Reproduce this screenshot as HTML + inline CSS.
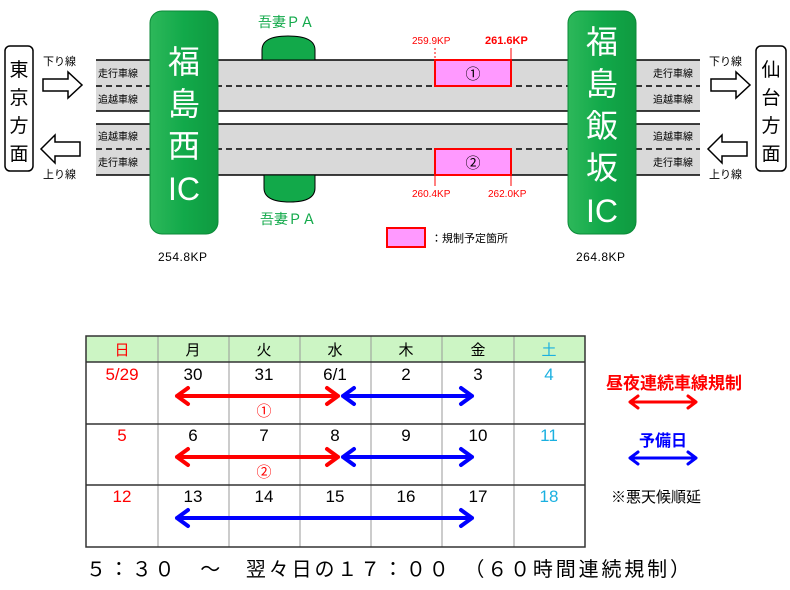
<!DOCTYPE html>
<html><head><meta charset="utf-8"><style>
body{margin:0;background:#fff}
text{font-family:"Liberation Sans","Noto Sans CJK JP",sans-serif}
</style></head><body>
<svg width="790" height="585" viewBox="0 0 790 585" xmlns="http://www.w3.org/2000/svg">
<defs>
<linearGradient id="g" x1="0" x2="1"><stop offset="0" stop-color="#2db85a"/><stop offset=".5" stop-color="#12a94a"/><stop offset="1" stop-color="#0f9a40"/></linearGradient>
</defs>
<rect x="96" y="60" width="604" height="51" fill="#d9d9d9"/>
<rect x="96" y="124" width="604" height="51" fill="#d9d9d9"/>
<g stroke="#000" stroke-width="1.5">
<line x1="96" y1="60" x2="700" y2="60"/><line x1="96" y1="111" x2="700" y2="111"/>
<line x1="96" y1="124" x2="700" y2="124"/><line x1="96" y1="175" x2="700" y2="175"/>
<line x1="96" y1="86" x2="700" y2="86" stroke-dasharray="6,4"/>
<line x1="96" y1="149" x2="700" y2="149" stroke-dasharray="6,4"/>
</g>
<g font-size="10" fill="#000">
<text x="98" y="77">走行車線</text><text x="98" y="103">追越車線</text>
<text x="98" y="140">追越車線</text><text x="98" y="166">走行車線</text>
<text x="653" y="77">走行車線</text><text x="653" y="103">追越車線</text>
<text x="653" y="140">追越車線</text><text x="653" y="166">走行車線</text>
</g>
<path d="M262 60 V50 Q262 36 288 36 Q315 36 315 50 V60 Z" fill="#12a94a" stroke="#000"/>
<path d="M264 175 V188 Q264 202 290 202 Q315 202 315 188 V175 Z" fill="#12a94a" stroke="#000"/>
<text x="258" y="27" font-size="14" fill="#12a94a">吾妻ＰＡ</text>
<text x="260" y="224" font-size="14" fill="#12a94a">吾妻ＰＡ</text>
<rect x="150" y="11" width="68" height="223" rx="12" fill="url(#g)" stroke="#0b8a38"/>
<rect x="568" y="11" width="68" height="223" rx="12" fill="url(#g)" stroke="#0b8a38"/>
<g font-size="32" fill="#fff" text-anchor="middle">
<text x="184" y="73">福</text><text x="184" y="115">島</text><text x="184" y="157">西</text><text x="184" y="200">IC</text>
<text x="602" y="53">福</text><text x="602" y="95">島</text><text x="602" y="137">飯</text><text x="602" y="179">坂</text><text x="602" y="222">IC</text>
</g>
<text x="158" y="261" font-size="12" letter-spacing="0.5">254.8KP</text>
<text x="576" y="261" font-size="12" letter-spacing="0.5">264.8KP</text>
<rect x="5" y="46" width="28" height="125" rx="5" fill="#fff" stroke="#000" stroke-width="1.5"/>
<rect x="756" y="46" width="30" height="125" rx="5" fill="#fff" stroke="#000" stroke-width="1.5"/>
<g font-size="19" text-anchor="middle">
<text x="19" y="76">東</text><text x="19" y="104">京</text><text x="19" y="132">方</text><text x="19" y="160">面</text>
<text x="771" y="76">仙</text><text x="771" y="104">台</text><text x="771" y="132">方</text><text x="771" y="160">面</text>
</g>
<g fill="#fff" stroke="#000" stroke-width="1.5">
<path d="M43 79 H68 V72 L82 85 L68 98 V91 H43 Z"/>
<path d="M80 142 H55 V135 L41 149 L55 163 V156 H80 Z"/>
<path d="M711 79 H736 V72 L750 85 L736 98 V91 H711 Z"/>
<path d="M747 142 H722 V135 L708 149 L722 163 V156 H747 Z"/>
</g>
<g font-size="11">
<text x="43" y="65">下り線</text><text x="43" y="178">上り線</text>
<text x="709" y="65">下り線</text><text x="709" y="178">上り線</text>
</g>
<rect x="435" y="60" width="76" height="26" fill="#ff99ff" stroke="#f00" stroke-width="2"/>
<rect x="435" y="149" width="76" height="26" fill="#ff99ff" stroke="#f00" stroke-width="2"/>
<text x="473" y="79" font-size="15" text-anchor="middle">①</text>
<text x="473" y="168" font-size="15" text-anchor="middle">②</text>
<g stroke="#f00" stroke-width="1">
<line x1="435" y1="48" x2="435" y2="60" stroke-dasharray="2,2"/>
<line x1="511" y1="48" x2="511" y2="60"/>
<line x1="435" y1="175" x2="435" y2="186"/>
<line x1="511" y1="175" x2="511" y2="186"/>
</g>
<text x="412" y="44" font-size="10" fill="#f00">259.9KP</text>
<text x="485" y="44" font-size="11" fill="#f00" font-weight="bold">261.6KP</text>
<text x="412" y="197" font-size="10" fill="#f00">260.4KP</text>
<text x="488" y="197" font-size="10" fill="#f00">262.0KP</text>
<rect x="387" y="228" width="38" height="19" fill="#ff99ff" stroke="#f00" stroke-width="2"/>
<text x="431" y="242" font-size="11">：規制予定箇所</text>
<rect x="86" y="336" width="499" height="26" fill="#ccf5c4"/>
<g stroke="#999" stroke-width="1">
<line x1="158" y1="336" x2="158" y2="547"/><line x1="229" y1="336" x2="229" y2="547"/>
<line x1="300" y1="336" x2="300" y2="547"/><line x1="371" y1="336" x2="371" y2="547"/>
<line x1="442" y1="336" x2="442" y2="547"/><line x1="514" y1="336" x2="514" y2="547"/>
</g>
<g stroke="#333" stroke-width="1.5" fill="none">
<rect x="86" y="336" width="499" height="211"/>
<line x1="86" y1="362" x2="585" y2="362"/><line x1="86" y1="424" x2="585" y2="424"/><line x1="86" y1="485" x2="585" y2="485"/>
</g>
<g font-size="15" text-anchor="middle">
<text x="122" y="355" fill="#f00">日</text><text x="193" y="355">月</text><text x="264" y="355">火</text><text x="335" y="355">水</text><text x="406" y="355">木</text><text x="478" y="355">金</text><text x="549" y="355" fill="#1ab0e0">土</text>
</g>
<g font-size="17" text-anchor="middle">
<text x="122" y="380" fill="#f00">5/29</text><text x="193" y="380">30</text><text x="264" y="380">31</text><text x="335" y="380">6/1</text><text x="406" y="380">2</text><text x="478" y="380">3</text><text x="549" y="380" fill="#1ab0e0">4</text>
<text x="122" y="441" fill="#f00">5</text><text x="193" y="441">6</text><text x="264" y="441">7</text><text x="335" y="441">8</text><text x="406" y="441">9</text><text x="478" y="441">10</text><text x="549" y="441" fill="#1ab0e0">11</text>
<text x="122" y="502" fill="#f00">12</text><text x="193" y="502">13</text><text x="264" y="502">14</text><text x="335" y="502">15</text><text x="406" y="502">16</text><text x="478" y="502">17</text><text x="549" y="502" fill="#1ab0e0">18</text>
</g>
<text x="264" y="416" font-size="15" fill="#f00" text-anchor="middle">①</text>
<text x="264" y="477" font-size="15" fill="#f00" text-anchor="middle">②</text>
<g fill="none" stroke-width="4" stroke-linecap="round" stroke-linejoin="round">
<g stroke="#f00">
<path d="M177 396 H338 M188 388 L177 396 L188 404 M327 388 L338 396 L327 404"/>
<path d="M177 457 H338 M188 449 L177 457 L188 465 M327 449 L338 457 L327 465"/>
<path d="M630 402 H696 M638 396 L630 402 L638 408 M688 396 L696 402 L688 408" stroke-width="3"/>
</g>
<g stroke="#00f">
<path d="M343 396 H472 M354 388 L343 396 L354 404 M461 388 L472 396 L461 404"/>
<path d="M343 457 H472 M354 449 L343 457 L354 465 M461 449 L472 457 L461 465"/>
<path d="M177 518 H472 M188 510 L177 518 L188 526 M461 510 L472 518 L461 526"/>
<path d="M630 458 H696 M638 452 L630 458 L638 464 M688 452 L696 458 L688 464" stroke-width="3"/>
</g>
</g>
<text x="606" y="389" font-size="17" fill="#f00" font-weight="bold">昼夜連続車線規制</text>
<text x="639" y="446" font-size="16" fill="#00f" font-weight="bold">予備日</text>
<text x="611" y="502" font-size="15">※悪天候順延</text>
<text x="86" y="576" font-size="20" textLength="604" lengthAdjust="spacing">５：３０　～　翌々日の１７：００　（６０時間連続規制）</text>
</svg>
</body></html>
